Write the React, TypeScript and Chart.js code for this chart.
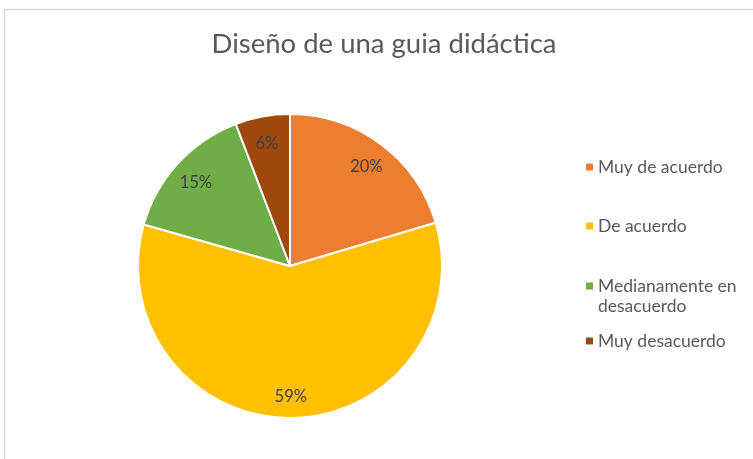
import React, { useEffect, useRef } from "react";
import { Chart, registerables } from "chart.js";

Chart.register(...registerables);

const TITLE = "Diseño de una guia didáctica";
const categories = ["Muy de acuerdo", "De acuerdo", "Medianamente en desacuerdo", "Muy desacuerdo"];
const legendLines = [["Muy de acuerdo"], ["De acuerdo"], ["Medianamente en", "desacuerdo"], ["Muy desacuerdo"]];
const values = [20.4, 59, 14.8, 5.8];
const colors = ["#ED7D31", "#FFC000", "#70AD47", "#9E480E"];

const FONT = "Lato, 'Noto Sans', sans-serif";

const overlay = {
  id: "overlay",
  afterDraw(chart: any) {
    const ctx = chart.ctx;
    ctx.save();
    // chart border
    ctx.strokeStyle = "#D9D9D9";
    ctx.lineWidth = 1.5;
    ctx.beginPath();
    ctx.moveTo(4.5, 470);
    ctx.lineTo(4.5, 9.5);
    ctx.lineTo(800, 9.5);
    ctx.stroke();

    // title
    ctx.fillStyle = "#595959";
    ctx.font = `27.5px ${FONT}`;
    ctx.textAlign = "center";
    ctx.textBaseline = "alphabetic";
    ctx.fillText(TITLE, 384, 53);

    // data labels
    const meta = chart.getDatasetMeta(0);
    const total = values.reduce((a, b) => a + b, 0);
    ctx.font = `16.5px ${FONT}`;
    ctx.fillStyle = "#404040";
    ctx.textBaseline = "middle";
    meta.data.forEach((arc: any, i: number) => {
      const p = arc.getProps(["x", "y", "startAngle", "endAngle", "outerRadius"], true);
      const mid = (p.startAngle + p.endAngle) / 2;
      const r = p.outerRadius * 0.84;
      const pct = Math.round((values[i] / total) * 100) + "%";
      ctx.fillText(pct, p.x + Math.cos(mid) * r, p.y + Math.sin(mid) * r + 3);
    });

    // legend
    const ys = [167, 226, 286, 341];
    ctx.textAlign = "left";
    ctx.font = `17.5px ${FONT}`;
    legendLines.forEach((lines, i) => {
      ctx.fillStyle = colors[i];
      ctx.fillRect(586, ys[i] - 3.5, 7, 7);
      ctx.fillStyle = "#595959";
      lines.forEach((t, j) => {
        ctx.fillText(t, 598, ys[i] + j * 20);
      });
    });
    ctx.restore();
  },
};

export default function App() {
  const ref = useRef<HTMLCanvasElement | null>(null);
  useEffect(() => {
    document.body.style.margin = "0";
    const chart = new Chart(ref.current as HTMLCanvasElement, {
      type: "pie",
      data: {
        labels: categories,
        datasets: [
          {
            data: values,
            backgroundColor: colors,
            borderColor: "#FFFFFF",
            borderWidth: 2,
          },
        ],
      },
      options: {
        animation: false,
        responsive: false,
        radius: 152,
        layout: { padding: { left: 0, right: 173, top: 73, bottom: 0 } },
        plugins: {
          legend: { display: false },
          title: { display: false },
          tooltip: { enabled: false },
        },
      } as any,
      plugins: [overlay],
    });
    return () => chart.destroy();
  }, []);
  return (
    <div style={{ position: "absolute", left: 0, top: 0, width: 753, height: 459, background: "#fff" }}>
      <canvas ref={ref} width={753} height={459} style={{ width: 753, height: 459 }} />
    </div>
  );
}
